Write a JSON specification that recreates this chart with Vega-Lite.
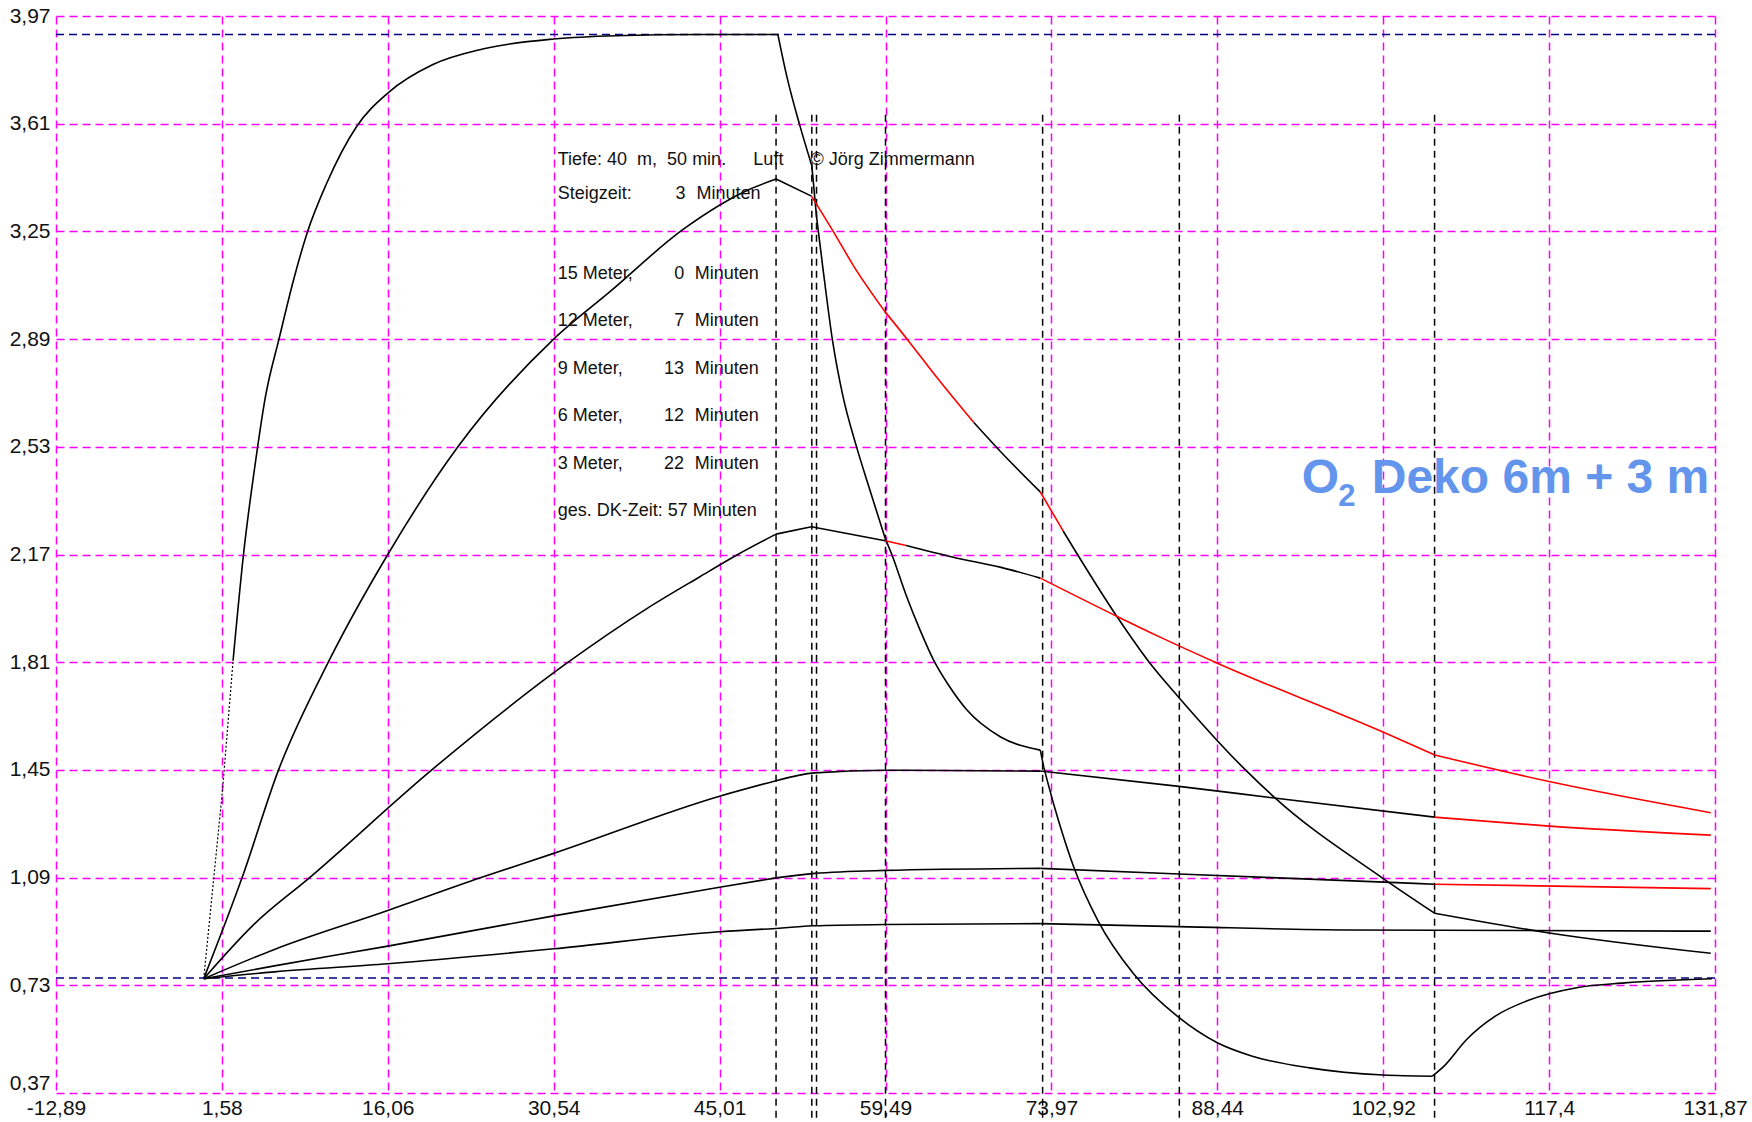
{
  "$schema": "https://vega.github.io/schema/vega-lite/v6.json",
  "width": 1659,
  "height": 1077,
  "autosize": {"type": "none"},
  "padding": {"left": 56, "top": 16, "right": 37, "bottom": 29},
  "background": "white",
  "config": {
    "view": {"stroke": null},
    "axis": {
      "grid": true,
      "gridColor": "#ff00ff",
      "gridDash": [8, 5],
      "gridWidth": 1.5,
      "gridOpacity": 1,
      "domain": false,
      "ticks": false,
      "labelFont": "Liberation Sans Narrow, Liberation Sans, Arial Narrow, sans-serif",
      "labelFontSize": 21,
      "labelColor": "#111111",
      "labelFlush": false,
      "labelOverlap": false,
      "labelBound": false,
      "title": null
    }
  },
  "datasets": {
    "curves": [
      {"s": "c1a", "c": "k", "x": 0, "y": 0.752},
      {"s": "c1a", "c": "k", "x": 1.65, "y": 1.386},
      {"s": "c1a", "c": "k", "x": 2.56, "y": 1.815},
      {"s": "c1b", "c": "k", "x": 2.56, "y": 1.815},
      {"s": "c1b", "c": "k", "x": 3.47, "y": 2.17},
      {"s": "c1b", "c": "k", "x": 4.63, "y": 2.51},
      {"s": "c1b", "c": "k", "x": 5.35, "y": 2.69},
      {"s": "c1b", "c": "k", "x": 6.6, "y": 2.895},
      {"s": "c1b", "c": "k", "x": 7.82, "y": 3.085},
      {"s": "c1b", "c": "k", "x": 8.98, "y": 3.24},
      {"s": "c1b", "c": "k", "x": 10.72, "y": 3.41},
      {"s": "c1b", "c": "k", "x": 13.33, "y": 3.6},
      {"s": "c1b", "c": "k", "x": 16.14, "y": 3.715},
      {"s": "c1b", "c": "k", "x": 20.0, "y": 3.808},
      {"s": "c1b", "c": "k", "x": 24.35, "y": 3.86},
      {"s": "c1b", "c": "k", "x": 30.53, "y": 3.893},
      {"s": "c1b", "c": "k", "x": 35.97, "y": 3.904},
      {"s": "c1b", "c": "k", "x": 43.26, "y": 3.908},
      {"s": "c1b", "c": "k", "x": 50.1, "y": 3.908},
      {"s": "c1c", "c": "k", "x": 50.1, "y": 3.908},
      {"s": "c1c", "c": "k", "x": 50.9, "y": 3.765},
      {"s": "c1c", "c": "k", "x": 52.0, "y": 3.606},
      {"s": "c1c", "c": "k", "x": 53.06, "y": 3.47},
      {"s": "c1d", "c": "k", "x": 53.06, "y": 3.47},
      {"s": "c1d", "c": "k", "x": 53.47, "y": 3.3},
      {"s": "c1e", "c": "k", "x": 53.47, "y": 3.3},
      {"s": "c1e", "c": "k", "x": 54.02, "y": 3.13},
      {"s": "c1e", "c": "k", "x": 54.9, "y": 2.877},
      {"s": "c1e", "c": "k", "x": 55.77, "y": 2.7},
      {"s": "c1e", "c": "k", "x": 56.94, "y": 2.533},
      {"s": "c1e", "c": "k", "x": 58.1, "y": 2.389},
      {"s": "c1e", "c": "k", "x": 59.46, "y": 2.224},
      {"s": "c1f", "c": "k", "x": 59.46, "y": 2.224},
      {"s": "c1f", "c": "k", "x": 60.0, "y": 2.174},
      {"s": "c1f", "c": "k", "x": 61.3, "y": 2.033},
      {"s": "c1f", "c": "k", "x": 62.5, "y": 1.918},
      {"s": "c1f", "c": "k", "x": 63.7, "y": 1.816},
      {"s": "c1f", "c": "k", "x": 65.1, "y": 1.727},
      {"s": "c1f", "c": "k", "x": 66.6, "y": 1.65},
      {"s": "c1f", "c": "k", "x": 69.5, "y": 1.561},
      {"s": "c1f", "c": "k", "x": 73.0, "y": 1.516},
      {"s": "c1g", "c": "k", "x": 73.0, "y": 1.516},
      {"s": "c1g", "c": "k", "x": 73.3, "y": 1.459},
      {"s": "c1h", "c": "k", "x": 73.3, "y": 1.459},
      {"s": "c1h", "c": "k", "x": 74.2, "y": 1.331},
      {"s": "c1h", "c": "k", "x": 75.0, "y": 1.229},
      {"s": "c1h", "c": "k", "x": 75.9, "y": 1.127},
      {"s": "c1h", "c": "k", "x": 78.0, "y": 0.948},
      {"s": "c1h", "c": "k", "x": 81.1, "y": 0.77},
      {"s": "c1h", "c": "k", "x": 85.0, "y": 0.625},
      {"s": "c1h", "c": "k", "x": 88.44, "y": 0.538},
      {"s": "c1h", "c": "k", "x": 91.5, "y": 0.493},
      {"s": "c1h", "c": "k", "x": 96.5, "y": 0.454},
      {"s": "c1h", "c": "k", "x": 102.9, "y": 0.43},
      {"s": "c1h", "c": "k", "x": 107.2, "y": 0.426},
      {"s": "c1i", "c": "k", "x": 107.2, "y": 0.426},
      {"s": "c1i", "c": "k", "x": 108.2, "y": 0.459},
      {"s": "c1i", "c": "k", "x": 110.2, "y": 0.549},
      {"s": "c1i", "c": "k", "x": 112.7, "y": 0.627},
      {"s": "c1i", "c": "k", "x": 115.6, "y": 0.68},
      {"s": "c1i", "c": "k", "x": 119.8, "y": 0.722},
      {"s": "c1i", "c": "k", "x": 124.0, "y": 0.738},
      {"s": "c1i", "c": "k", "x": 131.6, "y": 0.752},

      {"s": "c2a", "c": "k", "x": 0, "y": 0.752},
      {"s": "c2a", "c": "k", "x": 3.35, "y": 1.09},
      {"s": "c2a", "c": "k", "x": 6.53, "y": 1.45},
      {"s": "c2a", "c": "k", "x": 10.87, "y": 1.81},
      {"s": "c2a", "c": "k", "x": 16.06, "y": 2.17},
      {"s": "c2a", "c": "k", "x": 22.18, "y": 2.53},
      {"s": "c2a", "c": "k", "x": 30.54, "y": 2.89},
      {"s": "c2a", "c": "k", "x": 35.5, "y": 3.05},
      {"s": "c2a", "c": "k", "x": 41.77, "y": 3.255},
      {"s": "c2a", "c": "k", "x": 47.6, "y": 3.39},
      {"s": "c2a", "c": "k", "x": 49.94, "y": 3.425},
      {"s": "c2b", "c": "k", "x": 49.94, "y": 3.425},
      {"s": "c2b", "c": "k", "x": 53.03, "y": 3.368},
      {"s": "c2c", "c": "r", "x": 53.03, "y": 3.368},
      {"s": "c2c", "c": "r", "x": 54.9, "y": 3.252},
      {"s": "c2c", "c": "r", "x": 56.7, "y": 3.135},
      {"s": "c2c", "c": "r", "x": 59.46, "y": 2.981},
      {"s": "c2d", "c": "r", "x": 59.46, "y": 2.981},
      {"s": "c2d", "c": "r", "x": 61.6, "y": 2.879},
      {"s": "c2d", "c": "r", "x": 63.7, "y": 2.775},
      {"s": "c2d", "c": "r", "x": 67.2, "y": 2.611},
      {"s": "c2e", "c": "k", "x": 67.2, "y": 2.611},
      {"s": "c2e", "c": "k", "x": 69.5, "y": 2.515},
      {"s": "c2e", "c": "k", "x": 73.0, "y": 2.379},
      {"s": "c2f", "c": "r", "x": 73.0, "y": 2.379},
      {"s": "c2f", "c": "r", "x": 75.0, "y": 2.248},
      {"s": "c2g", "c": "k", "x": 75.0, "y": 2.248},
      {"s": "c2g", "c": "k", "x": 79.8, "y": 1.956},
      {"s": "c2g", "c": "k", "x": 82.5, "y": 1.81},
      {"s": "c2g", "c": "k", "x": 85.05, "y": 1.694},
      {"s": "c2g", "c": "k", "x": 90.9, "y": 1.45},
      {"s": "c2g", "c": "k", "x": 93.4, "y": 1.359},
      {"s": "c2g", "c": "k", "x": 102.8, "y": 1.09},
      {"s": "c2g", "c": "k", "x": 107.4, "y": 0.971},
      {"s": "c2h", "c": "k", "x": 107.4, "y": 0.971},
      {"s": "c2h", "c": "k", "x": 117.4, "y": 0.905},
      {"s": "c2h", "c": "k", "x": 131.5, "y": 0.837},

      {"s": "c3a", "c": "k", "x": 0, "y": 0.752},
      {"s": "c3a", "c": "k", "x": 4.36, "y": 0.933},
      {"s": "c3a", "c": "k", "x": 9.24, "y": 1.09},
      {"s": "c3a", "c": "k", "x": 19.9, "y": 1.45},
      {"s": "c3a", "c": "k", "x": 31.8, "y": 1.81},
      {"s": "c3a", "c": "k", "x": 38.7, "y": 1.99},
      {"s": "c3a", "c": "k", "x": 43.26, "y": 2.095},
      {"s": "c3a", "c": "k", "x": 46.6, "y": 2.17},
      {"s": "c3a", "c": "k", "x": 49.94, "y": 2.238},
      {"s": "c3b", "c": "k", "x": 49.94, "y": 2.238},
      {"s": "c3b", "c": "k", "x": 53.03, "y": 2.263},
      {"s": "c3c", "c": "k", "x": 53.03, "y": 2.263},
      {"s": "c3c", "c": "k", "x": 59.46, "y": 2.216},
      {"s": "c3d", "c": "r", "x": 59.46, "y": 2.216},
      {"s": "c3d", "c": "r", "x": 61.3, "y": 2.2},
      {"s": "c3e", "c": "k", "x": 61.3, "y": 2.2},
      {"s": "c3e", "c": "k", "x": 65.4, "y": 2.161},
      {"s": "c3e", "c": "k", "x": 69.58, "y": 2.127},
      {"s": "c3e", "c": "k", "x": 73.0, "y": 2.091},
      {"s": "c3f", "c": "r", "x": 73.0, "y": 2.091},
      {"s": "c3f", "c": "r", "x": 79.7, "y": 1.963},
      {"s": "c3f", "c": "r", "x": 83.5, "y": 1.893},
      {"s": "c3f", "c": "r", "x": 88.5, "y": 1.806},
      {"s": "c3f", "c": "r", "x": 103.0, "y": 1.575},
      {"s": "c3f", "c": "r", "x": 107.4, "y": 1.5},
      {"s": "c3g", "c": "r", "x": 107.4, "y": 1.5},
      {"s": "c3g", "c": "r", "x": 117.4, "y": 1.411},
      {"s": "c3g", "c": "r", "x": 131.5, "y": 1.307},

      {"s": "c4a", "c": "k", "x": 0, "y": 0.752},
      {"s": "c4a", "c": "k", "x": 6.17, "y": 0.85},
      {"s": "c4a", "c": "k", "x": 16.06, "y": 0.98},
      {"s": "c4a", "c": "k", "x": 24.2, "y": 1.09},
      {"s": "c4a", "c": "k", "x": 30.54, "y": 1.171},
      {"s": "c4a", "c": "k", "x": 45.01, "y": 1.362},
      {"s": "c4a", "c": "k", "x": 49.94, "y": 1.414},
      {"s": "c4b", "c": "k", "x": 49.94, "y": 1.414},
      {"s": "c4b", "c": "k", "x": 53.3, "y": 1.44},
      {"s": "c4b", "c": "k", "x": 59.46, "y": 1.449},
      {"s": "c4b", "c": "k", "x": 73.0, "y": 1.446},
      {"s": "c4c", "c": "k", "x": 73.0, "y": 1.446},
      {"s": "c4c", "c": "k", "x": 85.1, "y": 1.395},
      {"s": "c4c", "c": "k", "x": 93.4, "y": 1.356},
      {"s": "c4c", "c": "k", "x": 107.4, "y": 1.292},
      {"s": "c4d", "c": "r", "x": 107.4, "y": 1.292},
      {"s": "c4d", "c": "r", "x": 117.4, "y": 1.262},
      {"s": "c4d", "c": "r", "x": 131.5, "y": 1.232},

      {"s": "c5a", "c": "k", "x": 0, "y": 0.752},
      {"s": "c5a", "c": "k", "x": 6.17, "y": 0.795},
      {"s": "c5a", "c": "k", "x": 16.06, "y": 0.861},
      {"s": "c5a", "c": "k", "x": 30.54, "y": 0.962},
      {"s": "c5a", "c": "k", "x": 45.01, "y": 1.058},
      {"s": "c5a", "c": "k", "x": 49.94, "y": 1.089},
      {"s": "c5b", "c": "k", "x": 49.94, "y": 1.089},
      {"s": "c5b", "c": "k", "x": 53.3, "y": 1.104},
      {"s": "c5b", "c": "k", "x": 59.46, "y": 1.114},
      {"s": "c5b", "c": "k", "x": 73.0, "y": 1.121},
      {"s": "c5c", "c": "k", "x": 73.0, "y": 1.121},
      {"s": "c5c", "c": "k", "x": 85.1, "y": 1.102},
      {"s": "c5c", "c": "k", "x": 103.0, "y": 1.075},
      {"s": "c5c", "c": "k", "x": 107.4, "y": 1.068},
      {"s": "c5d", "c": "r", "x": 107.4, "y": 1.068},
      {"s": "c5d", "c": "r", "x": 131.5, "y": 1.053},

      {"s": "c6a", "c": "k", "x": 0, "y": 0.752},
      {"s": "c6a", "c": "k", "x": 6.17, "y": 0.775},
      {"s": "c6a", "c": "k", "x": 16.06, "y": 0.802},
      {"s": "c6a", "c": "k", "x": 30.54, "y": 0.852},
      {"s": "c6a", "c": "k", "x": 45.01, "y": 0.909},
      {"s": "c6a", "c": "k", "x": 49.94, "y": 0.92},
      {"s": "c6b", "c": "k", "x": 49.94, "y": 0.92},
      {"s": "c6b", "c": "k", "x": 53.3, "y": 0.929},
      {"s": "c6b", "c": "k", "x": 59.46, "y": 0.933},
      {"s": "c6b", "c": "k", "x": 73.0, "y": 0.936},
      {"s": "c6c", "c": "k", "x": 73.0, "y": 0.936},
      {"s": "c6c", "c": "k", "x": 85.1, "y": 0.926},
      {"s": "c6c", "c": "k", "x": 100.0, "y": 0.915},
      {"s": "c6c", "c": "k", "x": 131.5, "y": 0.911}
    ],
    "vlines": [
      {"x": 49.94}, {"x": 53.06}, {"x": 53.47}, {"x": 59.49}, {"x": 73.2}, {"x": 85.13}, {"x": 107.4}
    ],
    "hlines": [
      {"y": 3.908}, {"y": 0.754}
    ],
    "leftText": [
      {"x": 30.89, "y": 3.471, "t": "Tiefe: 40\u00a0 m,\u00a0 50 min."},
      {"x": 47.96, "y": 3.471, "t": "Luft"},
      {"x": 52.94, "y": 3.471, "t": "© Jörg Zimmermann"},
      {"x": 30.89, "y": 3.357, "t": "Steigzeit:"},
      {"x": 43.0, "y": 3.357, "t": "Minuten"},
      {"x": 30.89, "y": 3.092, "t": "15 Meter,"},
      {"x": 42.85, "y": 3.092, "t": "Minuten"},
      {"x": 30.89, "y": 2.935, "t": "12 Meter,"},
      {"x": 42.85, "y": 2.935, "t": "Minuten"},
      {"x": 30.89, "y": 2.774, "t": "9 Meter,"},
      {"x": 42.85, "y": 2.774, "t": "Minuten"},
      {"x": 30.89, "y": 2.617, "t": "6 Meter,"},
      {"x": 42.85, "y": 2.617, "t": "Minuten"},
      {"x": 30.89, "y": 2.456, "t": "3 Meter,"},
      {"x": 42.85, "y": 2.456, "t": "Minuten"},
      {"x": 30.89, "y": 2.3, "t": "ges. DK-Zeit: 57 Minuten"}
    ],
    "numText": [
      {"x": 42.05, "y": 3.357, "t": "3"},
      {"x": 41.92, "y": 3.092, "t": "0"},
      {"x": 41.92, "y": 2.935, "t": "7"},
      {"x": 41.92, "y": 2.774, "t": "13"},
      {"x": 41.92, "y": 2.617, "t": "12"},
      {"x": 41.92, "y": 2.456, "t": "22"}
    ],
    "titleBig": [
      {"x": 95.81, "y": 2.375, "t": "O"},
      {"x": 101.92, "y": 2.375, "t": "Deko 6m + 3 m"}
    ],
    "titleSub": [
      {"x": 99.0, "y": 2.331, "t": "2"}
    ]
  },
  "layer": [
    {
      "data": {"name": "hlines"},
      "mark": {"type": "rule", "color": "#000080", "strokeDash": [8, 5], "strokeWidth": 1.5},
      "encoding": {
        "y": {"field": "y", "type": "quantitative", "scale": {"domain": [0.37, 3.97], "nice": false, "zero": false},
          "axis": {"values": [0.37, 0.73, 1.09, 1.45, 1.81, 2.17, 2.53, 2.89, 3.25, 3.61, 3.97], "labelExpr": "replace(toString(datum.value), '.', ',')", "labelPadding": 6,
            "labelBaseline": {"condition": {"test": "datum.value < 0.5", "value": "bottom"}, "value": "middle"}}}
      }
    },
    {
      "data": {"name": "vlines"},
      "mark": {"type": "rule", "color": "#000000", "strokeDash": [7, 5], "strokeWidth": 1.5, "clip": false},
      "encoding": {
        "x": {"field": "x", "type": "quantitative", "scale": {"domain": [-12.89, 131.87], "nice": false, "zero": false},
          "axis": {"values": [-12.89, 1.58, 16.06, 30.54, 45.01, 59.49, 73.97, 88.44, 102.92, 117.4, 131.87], "labelExpr": "replace(toString(datum.value), '.', ',')", "labelPadding": 4}},
        "y": {"datum": 3.64, "type": "quantitative"},
        "y2": {"datum": 0.27}
      }
    },
    {
      "data": {"name": "curves"},
      "transform": [{"filter": "datum.s != 'c1a'"}],
      "mark": {"type": "line", "strokeWidth": 1.6, "interpolate": "monotone"},
      "encoding": {
        "x": {"field": "x", "type": "quantitative"},
        "y": {"field": "y", "type": "quantitative"},
        "detail": {"field": "s"},
        "color": {"field": "c", "type": "nominal", "scale": {"domain": ["k", "r"], "range": ["#000000", "#ff0000"]}, "legend": null}
      }
    },
    {
      "data": {"name": "curves"},
      "transform": [{"filter": "datum.s == 'c1a'"}],
      "mark": {"type": "line", "strokeWidth": 1.2, "strokeDash": [2, 2], "color": "#000000"},
      "encoding": {
        "x": {"field": "x", "type": "quantitative"},
        "y": {"field": "y", "type": "quantitative"}
      }
    },
    {
      "data": {"name": "leftText"},
      "mark": {"type": "text", "align": "left", "baseline": "alphabetic", "font": "Liberation Sans", "fontSize": 18, "color": "#111111"},
      "encoding": {
        "x": {"field": "x", "type": "quantitative"},
        "y": {"field": "y", "type": "quantitative"},
        "text": {"field": "t"}
      }
    },
    {
      "data": {"name": "numText"},
      "mark": {"type": "text", "align": "right", "baseline": "alphabetic", "font": "Liberation Sans", "fontSize": 18, "color": "#111111"},
      "encoding": {
        "x": {"field": "x", "type": "quantitative"},
        "y": {"field": "y", "type": "quantitative"},
        "text": {"field": "t"}
      }
    },
    {
      "data": {"name": "titleBig"},
      "mark": {"type": "text", "align": "left", "baseline": "alphabetic", "font": "Liberation Sans", "fontWeight": "bold", "fontSize": 48, "color": "#6495ED"},
      "encoding": {
        "x": {"field": "x", "type": "quantitative"},
        "y": {"field": "y", "type": "quantitative"},
        "text": {"field": "t"}
      }
    },
    {
      "data": {"name": "titleSub"},
      "mark": {"type": "text", "align": "left", "baseline": "alphabetic", "font": "Liberation Sans", "fontWeight": "bold", "fontSize": 31, "color": "#6495ED"},
      "encoding": {
        "x": {"field": "x", "type": "quantitative"},
        "y": {"field": "y", "type": "quantitative"},
        "text": {"field": "t"}
      }
    }
  ]
}
